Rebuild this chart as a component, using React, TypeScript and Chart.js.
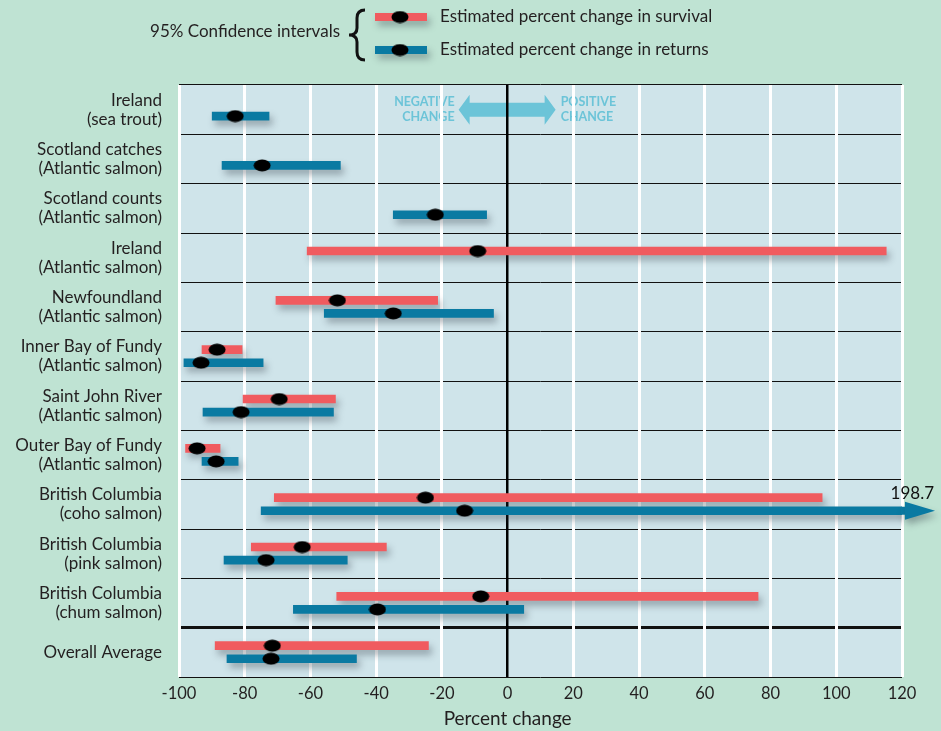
import React, { useEffect, useRef } from "react";
import { Chart, registerables } from "chart.js";

Chart.register(...registerables);

// ---------- data ----------
const categories: string[][] = [
  ["Ireland", "(sea trout)"],
  ["Scotland catches", "(Atlantic salmon)"],
  ["Scotland counts", "(Atlantic salmon)"],
  ["Ireland", "(Atlantic salmon)"],
  ["Newfoundland", "(Atlantic salmon)"],
  ["Inner Bay of Fundy", "(Atlantic salmon)"],
  ["Saint John River", "(Atlantic salmon)"],
  ["Outer Bay of Fundy", "(Atlantic salmon)"],
  ["British Columbia", "(coho salmon)"],
  ["British Columbia", "(pink salmon)"],
  ["British Columbia", "(chum salmon)"],
  ["Overall Average"],
];

const survivalLow = [null, null, null, -61, -70.5, -93, -80.5, -98, -71, -78, -52, -89];
const survivalHigh = [null, null, null, 115.2, -21.3, -80.8, -52.4, -87.5, 95.7, -36.9, 76.2, -24.1];
const survivalEst = [null, null, null, -9.1, -51.8, -88.4, -69.5, -94.5, -25, -62.5, -8.2, -71.6];

const returnsLow = [-89.9, -86.9, -34.8, null, -55.8, -98.5, -92.7, -93, -75, -86.3, -65.2, -85.4];
const returnsHigh = [-72.6, -50.9, -6.4, null, -4.3, -74.4, -53, -82, 198.7, -48.8, 4.9, -46];
const returnsEst = [-82.9, -74.7, -22, null, -34.8, -93.3, -81.1, -88.7, -13.1, -73.5, -39.6, -72];

const xMin = -100;
const xMax = 120;
const xStep = 20;

const legendTitle = "95% Confidence intervals";
const survivalLabel = "Estimated percent change in survival";
const returnsLabel = "Estimated percent change in returns";
const xTitle = "Percent change";

// ---------- style ----------
const FONT = "Lato, 'DejaVu Sans', sans-serif";
const RED = "#f05b5f";
const BLUE = "#0a7aa2";
const PAGE_BG = "#bfe3d3";
const PLOT_BG = "#cfe4ea";
const ANNOT = "#6cc4d8";
const TEXT = "#231f20";
const SURV_OFF = -0.135;
const RET_OFF = 0.13;

function makeDot(): HTMLCanvasElement {
  const c = document.createElement("canvas");
  c.width = 18;
  c.height = 13;
  const g = c.getContext("2d")!;
  g.fillStyle = "#000";
  g.beginPath();
  g.ellipse(9, 6.5, 8.5, 6, 0, 0, Math.PI * 2);
  g.fill();
  return c;
}

function setShadow(ctx: CanvasRenderingContext2D) {
  ctx.shadowColor = "rgba(40,50,60,0.35)";
  ctx.shadowBlur = 7;
  ctx.shadowOffsetX = 3;
  ctx.shadowOffsetY = 5;
}

export default function App() {
  const ref = useRef<HTMLCanvasElement | null>(null);

  useEffect(() => {
    if (!ref.current) return;
    const dot = makeDot();

    const survBars: any[] = [];
    const survDots: any[] = [];
    const retBars: any[] = [];
    const retDots: any[] = [];
    categories.forEach((_, i) => {
      if (survivalLow[i] !== null) {
        survBars.push({ x: [survivalLow[i], survivalHigh[i]], y: i + SURV_OFF });
        survDots.push({ x: survivalEst[i], y: i + SURV_OFF });
      }
      if (returnsLow[i] !== null) {
        retBars.push({ x: [returnsLow[i], returnsHigh[i]], y: i + RET_OFF });
        retDots.push({ x: returnsEst[i], y: i + RET_OFF });
      }
    });

    const bgPlugin = {
      id: "bgPlugin",
      beforeDraw(chart: any) {
        const { ctx, chartArea: a, scales } = chart;
        ctx.save();
        ctx.fillStyle = PAGE_BG;
        ctx.fillRect(0, 0, chart.width, chart.height);
        ctx.fillStyle = PLOT_BG;
        ctx.fillRect(a.left, a.top, a.right - a.left, a.bottom - a.top);

        // negative / positive change annotation in the first row
        const x0 = scales.x.getPixelForValue(0);
        const yc = scales.yv.getPixelForValue(0);
        const l = x0 - 49, r = x0 + 48;
        ctx.fillStyle = ANNOT;
        ctx.beginPath();
        ctx.moveTo(l, yc);
        ctx.lineTo(l + 11, yc - 15);
        ctx.lineTo(l + 11, yc - 7);
        ctx.lineTo(r - 11, yc - 7);
        ctx.lineTo(r - 11, yc - 15);
        ctx.lineTo(r, yc);
        ctx.lineTo(r - 11, yc + 15);
        ctx.lineTo(r - 11, yc + 7);
        ctx.lineTo(l + 11, yc + 7);
        ctx.lineTo(l + 11, yc + 15);
        ctx.closePath();
        ctx.fill();
        ctx.font = `bold 12.5px ${FONT}`;
        ctx.textBaseline = "middle";
        ctx.textAlign = "right";
        ctx.fillText("NEGATIVE", l - 4, yc - 8);
        ctx.fillText("CHANGE", l - 4, yc + 7);
        ctx.textAlign = "left";
        ctx.fillText("POSITIVE", r + 5, yc - 8);
        ctx.fillText("CHANGE", r + 5, yc + 7);
        ctx.restore();
      },
    };

    const shadowPlugin = {
      id: "shadowPlugin",
      beforeDatasetDraw(chart: any, args: any) {
        const ds = chart.data.datasets[args.index];
        if (ds.type !== "bar") return;
        chart.ctx.save();
        setShadow(chart.ctx);
      },
      afterDatasetDraw(chart: any, args: any) {
        const ds = chart.data.datasets[args.index];
        if (ds.type !== "bar") return;
        chart.ctx.restore();
      },
    };

    const overlayPlugin = {
      id: "overlayPlugin",
      afterDraw(chart: any) {
        const { ctx, chartArea: a, scales } = chart;
        ctx.save();
        // overflow arrow(s)
        returnsHigh.forEach((v, i) => {
          if (v === null || v <= xMax) return;
          const y = scales.yv.getPixelForValue(i + RET_OFF);
          ctx.save();
          setShadow(ctx);
          ctx.fillStyle = BLUE;
          ctx.fillRect(a.right - 1, y - 4, 6, 8);
          ctx.beginPath();
          ctx.moveTo(a.right + 3, y - 9);
          ctx.lineTo(a.right + 33, y);
          ctx.lineTo(a.right + 3, y + 9);
          ctx.closePath();
          ctx.fill();
          ctx.restore();
          ctx.fillStyle = "#111";
          ctx.font = `17px ${FONT}`;
          ctx.textAlign = "right";
          ctx.textBaseline = "middle";
          ctx.fillText(String(v), a.right + 32, y - 17);
        });

        // x title centred on zero
        ctx.fillStyle = TEXT;
        ctx.font = `19px ${FONT}`;
        ctx.textAlign = "center";
        ctx.textBaseline = "middle";
        ctx.fillText(xTitle, scales.x.getPixelForValue(0), 719);

        // legend
        ctx.font = `17px ${FONT}`;
        ctx.textAlign = "right";
        ctx.fillText(legendTitle, 340, 32);
        // brace
        ctx.strokeStyle = "#111";
        ctx.lineWidth = 3;
        ctx.beginPath();
        ctx.moveTo(365, 10);
        ctx.quadraticCurveTo(357, 10, 357, 18);
        ctx.lineTo(357, 28);
        ctx.quadraticCurveTo(357, 35, 349, 35);
        ctx.quadraticCurveTo(357, 35, 357, 42);
        ctx.lineTo(357, 52);
        ctx.quadraticCurveTo(357, 60, 365, 60);
        ctx.stroke();
        const items = [
          { c: RED, y: 17, t: survivalLabel },
          { c: BLUE, y: 50, t: returnsLabel },
        ];
        items.forEach((it) => {
          ctx.save();
          setShadow(ctx);
          ctx.fillStyle = it.c;
          ctx.fillRect(375, it.y - 4, 52, 8);
          ctx.restore();
          ctx.drawImage(dot, 400 - 9, it.y - 6.5);
          ctx.fillStyle = TEXT;
          ctx.textAlign = "left";
          ctx.fillText(it.t, 440, it.y);
        });
        ctx.restore();
      },
    };

    const chart = new Chart(ref.current, {
      type: "bar",
      data: {
        labels: categories as any,
        datasets: [
          {
            type: "bar",
            label: survivalLabel,
            data: survBars,
            backgroundColor: RED,
            yAxisID: "yv",
            xAxisID: "x",
            barThickness: 8,
            grouped: false,
            borderSkipped: false,
            order: 3,
          } as any,
          {
            type: "bar",
            label: returnsLabel,
            data: retBars,
            backgroundColor: BLUE,
            yAxisID: "yv",
            xAxisID: "x",
            barThickness: 8,
            grouped: false,
            borderSkipped: false,
            order: 2,
          } as any,
          {
            type: "scatter",
            label: "survival estimate",
            data: survDots,
            yAxisID: "yv",
            xAxisID: "x",
            pointStyle: dot,
            pointRadius: 8,
            order: 1,
          } as any,
          {
            type: "scatter",
            label: "returns estimate",
            data: retDots,
            yAxisID: "yv",
            xAxisID: "x",
            pointStyle: dot,
            pointRadius: 8,
            order: 0,
          } as any,
        ],
      },
      options: {
        indexAxis: "y",
        animation: false,
        responsive: false,
        events: [],
        layout: { padding: { top: 85, right: 39, bottom: 0, left: 0 } },
        plugins: { legend: { display: false }, tooltip: { enabled: false } },
        scales: {
          x: {
            type: "linear",
            position: "bottom",
            min: xMin,
            max: xMax,
            ticks: {
              stepSize: xStep,
              padding: 7,
              color: TEXT,
              font: { family: FONT, size: 16.5 },
            },
            grid: {
              z: -1,
              drawTicks: false,
              color: (c: any) => (c.tick && c.tick.value === 0 ? "#000" : "#ffffff"),
              lineWidth: (c: any) => (c.tick && c.tick.value === 0 ? 2.5 : 3),
            },
            border: { display: false },
            afterFit: (s: any) => {
              s.height = 54;
            },
          },
          y: {
            type: "category",
            position: "left",
            offset: true,
            ticks: {
              padding: 17,
              color: TEXT,
              font: { family: FONT, size: 17, lineHeight: 1.12 },
            },
            grid: {
              z: -2,
              offset: true,
              drawTicks: false,
              color: "#111",
              lineWidth: (c: any) => (c.index === 11 ? 3 : 1),
            },
            border: { display: false },
            afterFit: (s: any) => {
              s.width = 179;
            },
          },
          yv: {
            type: "linear",
            display: false,
            offset: false,
            grace: 0,
            min: -0.5,
            max: categories.length - 0.5,
            reverse: true,
          },
        },
      } as any,
      plugins: [bgPlugin, shadowPlugin, overlayPlugin],
    });

    return () => chart.destroy();
  }, []);

  return (
    <div
      style={{
        position: "fixed",
        left: 0,
        top: 0,
        width: 941,
        height: 731,
        background: PAGE_BG,
      }}
    >
      <canvas ref={ref} width={941} height={731} style={{ display: "block" }} />
    </div>
  );
}
